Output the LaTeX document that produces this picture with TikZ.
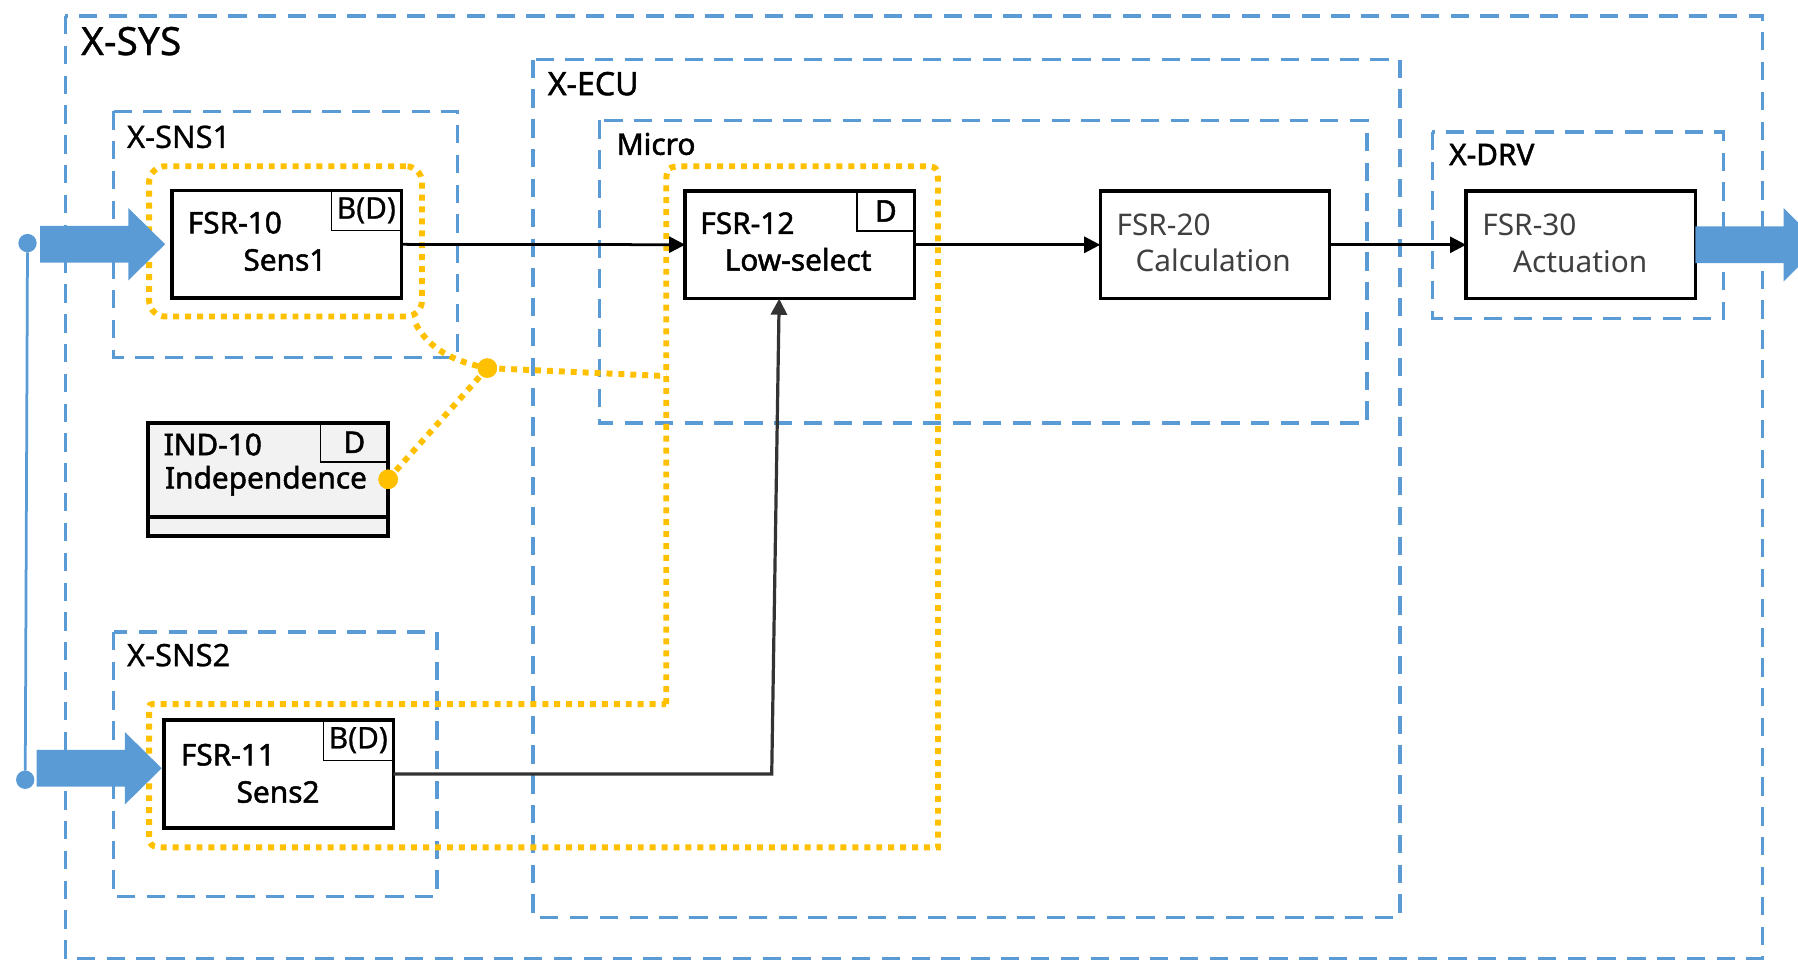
\documentclass[tikz,border=0pt]{standalone}
\usepackage{fontspec}
\setmainfont{Noto Sans}
\newfontfamily\medfont[FakeBold=1.6]{Noto Sans}
\newfontfamily\semifont[FakeBold=0.8]{Noto Sans}
\usetikzlibrary{arrows.meta}
\definecolor{sysblue}{RGB}{91,155,213}
\definecolor{safeorange}{RGB}{255,192,0}
\definecolor{indgray}{RGB}{242,242,242}
\definecolor{txtgray}{RGB}{64,64,64}
\definecolor{linegray}{RGB}{51,51,51}
\tikzset{every picture/.style={line width=0.75pt}}
\tikzset{
  bluedash/.style={draw=sysblue, line width=1.5pt, dash pattern=on 8pt off 5pt},
  orangedot/.style={draw=safeorange, line width=2.6pt, dash pattern=on 2.6pt off 2.6pt},
  fsrbox/.style={draw, fill=white, line width=1.5pt, minimum width=100pt, minimum height=47pt, inner sep=0pt, outer sep=0pt},
  tagbox/.style={draw, line width=0.6pt, anchor=north east, minimum height=17.5pt, inner sep=0pt, outer sep=0pt, font=\semifont\fontsize{13}{15}\selectfont},
  boxtext/.style={inner sep=0pt, font=\medfont\fontsize{13}{15}\selectfont},
  lighttext/.style={inner sep=0pt, text=txtgray, font=\fontsize{13}{15}\selectfont},
  flow/.style={line width=1.2pt, -{Triangle[length=7pt,width=7pt]}},
  bluedot/.style={circle, fill=sysblue, minimum size=8pt, inner sep=0pt, outer sep=0pt},
  odot/.style={circle, fill=safeorange, minimum size=8.5pt, inner sep=0pt, outer sep=0pt},
}

\begin{document}
\begin{tikzpicture}[x=0.5pt,y=0.5pt,yscale=-1,xscale=1]
\useasboundingbox (0,0) rectangle (1568,839);

%Shape: Rectangle (containers)
\draw[bluedash] (57,14) rectangle (1537,836);
\draw[bluedash] (465,52) rectangle (1221,800);
\draw[bluedash] (523,105) rectangle (1192,369);
\draw[bluedash] (99,97) rectangle (399,312);
\draw[bluedash] (99,551) rectangle (381,782);
\draw[bluedash] (1249,115) rectangle (1503,278);

% Text Node
\node[inner sep=0pt, anchor=base west, font=\semifont\fontsize{17}{19}\selectfont] (lblsys) at (70,48) {X-SYS};
% Text Node
\node[inner sep=0pt, anchor=base west, font=\medfont\fontsize{14}{17}\selectfont] (lblecu) at (477,83) {X-ECU};
% Text Node
\node[inner sep=0pt, anchor=base west, font=\medfont\fontsize{13}{16}\selectfont] (lblmicro) at (537,135) {Micro};
% Text Node
\node[inner sep=0pt, anchor=base west, font=\semifont\fontsize{13.5}{16}\selectfont] (lblsns1) at (110,129) {X-SNS1};
% Text Node
\node[inner sep=0pt, anchor=base west, font=\semifont\fontsize{13.5}{16}\selectfont] (lblsns2) at (110,581) {X-SNS2};
% Text Node
\node[inner sep=0pt, anchor=base west, font=\medfont\fontsize{13}{16}\selectfont] (lbldrv) at (1263,144) {X-DRV};

%Shape: Rounded Rectangle (safety group of FSR-10)
\node[orangedot, rounded corners=7pt, minimum width=119pt, minimum height=65.5pt, inner sep=0pt] (grp10) at (249,210.5) {};
%Shape: Polygon (safety group of FSR-11 and FSR-12)
\draw[orangedot] (581,614) -- (581,164) .. controls (581,145) .. (600,145) -- (802,145) .. controls (818,145) .. (818,161) -- (818,739) -- (148,739) .. controls (130,739) .. (130,721) -- (130,620) .. controls (130,614) .. (136,614) -- cycle;
\coordinate (ljoin) at (581,328);

%Shape: Boxes
\node[fsrbox] (fsr10) at (250,213) {};
\node[tagbox, minimum width=30.5pt] (tag10) at (fsr10.north east) {B(D)};
\node[fsrbox] (fsr11) at (243,675) {};
\node[tagbox, minimum width=30.5pt] (tag11) at (fsr11.north east) {B(D)};
\node[fsrbox] (fsr12) at (697.5,213.5) {};
\node[tagbox, minimum width=25pt, font=\medfont\fontsize{13}{15}\selectfont] (tag12) at (fsr12.north east) {D};
\node[fsrbox] (fsr20) at (1059.5,213.5) {};
\node[fsrbox] (fsr30) at (1378.5,213.5) {};
\node[fsrbox, fill=indgray, minimum width=104.75pt, minimum height=49.25pt] (ind10) at (233.75,418) {};
\node[tagbox, minimum width=29.5pt, minimum height=17pt, font=\medfont\fontsize{13}{15}\selectfont] (tagind) at (ind10.north east) {D};
\draw[line width=1.5pt] (ind10.west |- 0,451) -- (ind10.east |- 0,451);

% Text Node
\node[boxtext, anchor=base west] (fsr10id) at (163,203.5) {FSR-10};
\node[boxtext, anchor=base] (fsr10name) at (248.5,236) {Sens1};
% Text Node
\node[boxtext, anchor=base west] (fsr11id) at (157,667.5) {FSR-11};
\node[boxtext, anchor=base] (fsr11name) at (242.5,700) {Sens2};
% Text Node
\node[boxtext, anchor=base west] (fsr12id) at (610,204) {FSR-12};
\node[boxtext, anchor=base] (fsr12name) at (696,236) {Low-select};
% Text Node
\node[lighttext, anchor=base west] (fsr20id) at (973,205.5) {FSR-20};
\node[lighttext, anchor=base] (fsr20name) at (1058,237) {Calculation};
% Text Node
\node[lighttext, anchor=base west] (fsr30id) at (1292,205) {FSR-30};
\node[lighttext, anchor=base] (fsr30name) at (1378,238) {Actuation};
% Text Node
\node[boxtext, anchor=base west] (ind10id) at (142,397) {IND-10};
\node[boxtext, anchor=base] (ind10name) at (232,426) {Independence};

%Curve Lines (independence links)
\node[odot] (jdot) at (425,321) {};
\node[odot] (inddot) at (ind10.east) {};
\draw[orangedot] ([shift={(-4pt,2pt)}]grp10.south east) .. controls +(12,22) and +(-30,-6) .. (jdot.center);
\draw[orangedot] (jdot.center) -- (ljoin);
\draw[orangedot] (jdot.center) -- (inddot.center);
\node[odot] at (jdot) {};
\node[odot] at (inddot) {};

%Straight Lines (signal flow)
\draw[flow] (fsr10) -- (fsr12);
\draw[flow] (fsr12) -- (fsr20);
\draw[flow] (fsr20) -- (fsr30);
\coordinate (bend11) at (673,675);
\draw[flow, color=linegray, line width=1.4pt] (fsr11.east) -- (bend11) -- ([xshift=-9pt]fsr12.south);

%Shape: Block Arrows (sensor inputs and actuator output)
\node[bluedot] (in1) at (24,212) {};
\node[bluedot] (in2) at (22,680) {};
\draw[sysblue, line width=1.2pt] (in1) -- (in2);
\fill[sysblue] ([xshift=-3pt]fsr10.west) -- ++(-32,-31.5) -- ++(0,15.5) -- ++(-77,0) -- ++(0,32) -- ++(77,0) -- ++(0,15.5) -- cycle;
\fill[sysblue] ([xshift=-1pt,yshift=-2.5pt]fsr11.west) -- ++(-32,-31.5) -- ++(0,15.5) -- ++(-77,0) -- ++(0,32) -- ++(77,0) -- ++(0,15.5) -- cycle;
\fill[sysblue] (fsr30.east) -- ++(0,-16) -- ++(77,0) -- ++(0,-16) -- ++(32,32) -- ++(-32,32) -- ++(0,-16) -- ++(-77,0) -- cycle;

\end{tikzpicture}
\end{document}
